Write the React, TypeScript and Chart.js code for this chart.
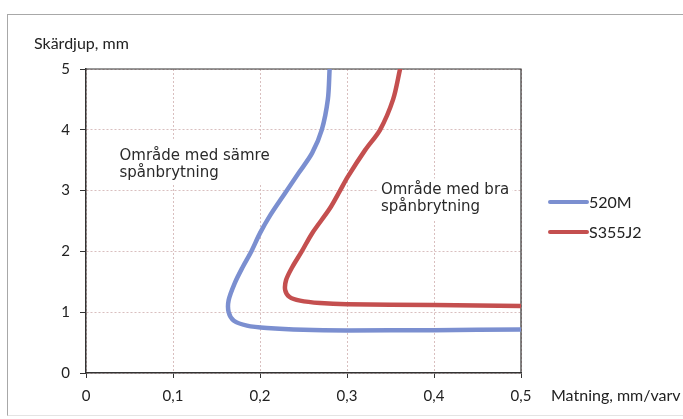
import React, { useEffect, useRef } from "react";
import { Chart, registerables } from "chart.js";

Chart.register(...registerables);

const seriesNames = ["520M", "S355J2"];
const seriesColors = ["#7b8fd0", "#c44f4f"];

const blueX = [0.280, 0.278, 0.271, 0.260, 0.245, 0.226, 0.212, 0.200, 0.190, 0.180, 0.171, 0.164, 0.164, 0.170, 0.185, 0.208, 0.250, 0.300, 0.400, 0.500];
const blueY = [5.0, 4.5, 4.0, 3.62, 3.3, 2.9, 2.6, 2.3, 2.0, 1.74, 1.48, 1.2, 1.0, 0.86, 0.78, 0.74, 0.71, 0.70, 0.705, 0.715];

const redX = [0.361, 0.353, 0.338, 0.321, 0.301, 0.292, 0.280, 0.260, 0.248, 0.237, 0.230, 0.229, 0.234, 0.246, 0.269, 0.300, 0.400, 0.500];
const redY = [5.0, 4.5, 4.0, 3.67, 3.23, 3.0, 2.7, 2.3, 2.0, 1.74, 1.53, 1.36, 1.25, 1.19, 1.15, 1.13, 1.12, 1.10];

const xTickLabels = ["0", "0,1", "0,2", "0,3", "0,4", "0,5"];
const yTickLabels = ["0", "1", "2", "3", "4", "5"];

const yTitle = "Skärdjup, mm";
const xTitle = "Matning, mm/varv";
const note1 = ["Område med sämre", "spånbrytning"];
const note2 = ["Område med bra", "spånbrytning"];

const TICK_FONT = "Lato";
const NOTE_FONT = "DejaVu Sans";

const toPoints = (xs: number[], ys: number[]) => xs.map((x, i) => ({ x, y: ys[i] }));

const decorPlugin = {
  id: "decor",
  beforeDatasetsDraw(chart: any) {
    const { ctx, chartArea, scales } = chart;
    const xs = scales.x;
    const ys = scales.y;
    ctx.save();
    ctx.fillStyle = "#ffffff";
    ctx.fillRect(xs.getPixelForValue(0.03), ys.getPixelForValue(3.85), 160, 44);
    ctx.fillRect(xs.getPixelForValue(0.335), ys.getPixelForValue(3.2), 135, 42);
    ctx.fillStyle = "#2a2a2a";
    ctx.font = `15px "${NOTE_FONT}"`;
    ctx.textBaseline = "alphabetic";
    ctx.textAlign = "left";
    const n1x = xs.getPixelForValue(0.0385);
    const n1y = ys.getPixelForValue(3.5);
    ctx.fillText(note1[0], n1x, n1y);
    ctx.fillText(note1[1], n1x, n1y + 17);
    const n2x = xs.getPixelForValue(0.339);
    const n2y = ys.getPixelForValue(2.95);
    ctx.fillText(note2[0], n2x, n2y);
    ctx.fillText(note2[1], n2x, n2y + 17);
    ctx.strokeStyle = "#333333";
    ctx.lineWidth = 1.2;
    ctx.beginPath();
    ctx.moveTo(chartArea.left, chartArea.top);
    ctx.lineTo(chartArea.right, chartArea.top);
    ctx.lineTo(chartArea.right, chartArea.bottom);
    ctx.stroke();
    ctx.restore();
  },
  afterDraw(chart: any) {
    const { ctx, chartArea } = chart;
    ctx.save();
    ctx.fillStyle = "#222222";
    ctx.font = `16px "${TICK_FONT}"`;
    ctx.textBaseline = "middle";
    ctx.textAlign = "left";
    ctx.fillText(yTitle, chartArea.left - 52, chartArea.top - 25);
    ctx.fillText(xTitle, chartArea.right + 30, chartArea.bottom + 23);
    const lx = chartArea.right + 27;
    const lys = [chartArea.top + 133, chartArea.top + 163];
    seriesNames.forEach((name, i) => {
      ctx.strokeStyle = seriesColors[i];
      ctx.lineWidth = 4;
      ctx.lineCap = "round";
      ctx.beginPath();
      ctx.moveTo(lx + 2, lys[i]);
      ctx.lineTo(lx + 39, lys[i]);
      ctx.stroke();
      ctx.fillStyle = "#222222";
      ctx.fillText(name, lx + 41, lys[i] + 1);
    });
    ctx.restore();
  },
};

export default function App() {
  const ref = useRef<HTMLCanvasElement>(null);
  useEffect(() => {
    if (!ref.current) return;
    const chart = new Chart(ref.current, {
      type: "scatter",
      data: {
        datasets: [
          {
            label: seriesNames[0],
            data: toPoints(blueX, blueY),
            showLine: true,
            borderColor: seriesColors[0],
            borderWidth: 4.5,
            pointRadius: 0,
            tension: 0.3,
            borderCapStyle: "round",
            borderJoinStyle: "round",
          },
          {
            label: seriesNames[1],
            data: toPoints(redX, redY),
            showLine: true,
            borderColor: seriesColors[1],
            borderWidth: 4.5,
            pointRadius: 0,
            tension: 0.3,
            borderCapStyle: "round",
            borderJoinStyle: "round",
          },
        ],
      },
      options: {
        animation: false,
        responsive: false,
        layout: { padding: { left: 46, top: 69, right: 162, bottom: 16 } },
        plugins: { legend: { display: false }, tooltip: { enabled: false } },
        scales: {
          x: {
            type: "linear",
            min: 0,
            max: 0.5,
            ticks: {
              stepSize: 0.1,
              padding: 9,
              color: "#222222",
              font: { family: TICK_FONT, size: 15 },
              maxRotation: 0,
              callback: (_v: any, i: number) => xTickLabels[i],
            },
            grid: {
              color: "#d9bfbf",
              lineWidth: 1,
              tickColor: "#333333",
              tickLength: 5,
            },
            border: { display: true, color: "#333333", width: 1.5, dash: [2, 2] },
            afterFit: (s: any) => { s.height = 30; },
          },
          y: {
            type: "linear",
            min: 0,
            max: 5,
            ticks: {
              stepSize: 1,
              padding: 10,
              color: "#222222",
              font: { family: TICK_FONT, size: 15 },
              callback: (_v: any, i: number) => yTickLabels[i],
            },
            grid: {
              color: "#d9bfbf",
              lineWidth: 1,
              tickColor: "#333333",
              tickLength: 6,
            },
            border: { display: true, color: "#333333", width: 1.5, dash: [2, 2] },
            afterFit: (s: any) => { s.width = 40; },
          },
        },
      },
      plugins: [decorPlugin],
    });
    return () => chart.destroy();
  }, []);
  return (
    <div style={{ position: "fixed", left: 0, top: 0, width: 683, height: 419, background: "#ffffff" }}>
      <div
        style={{
          position: "absolute",
          left: 7,
          top: 14,
          width: 690,
          height: 402,
          border: "1px solid #a8a8a8",
          borderBottomColor: "#e4e4e4",
          boxSizing: "border-box",
        }}
      />
      <canvas ref={ref} width={683} height={419} style={{ position: "absolute", left: 0, top: 0 }} />
    </div>
  );
}
